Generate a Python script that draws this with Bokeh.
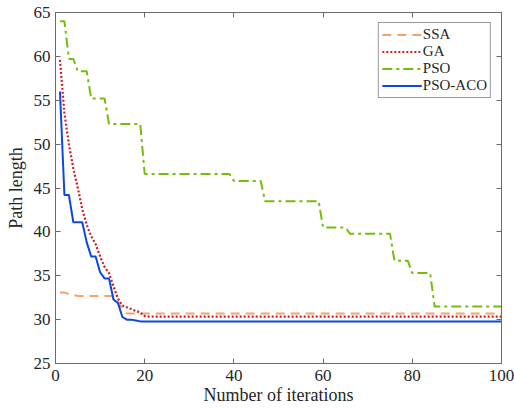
from bokeh.plotting import figure
from bokeh.models import FixedTicker, LinearAxis, Legend, LegendItem, Range1d, CustomJSTickFormatter
from bokeh.embed import file_html
from bokeh.resources import INLINE

iterations = list(range(1, 101))

ssa = [
    33.1, 33.1, 32.9, 32.8, 32.7, 32.7, 32.7, 32.7, 32.7, 32.7,
    32.7, 32.7, 32.7, 32.0, 31.2, 30.7, 30.7, 30.7, 30.7, 30.7,
    30.7, 30.7, 30.7, 30.7, 30.7, 30.7, 30.7, 30.7, 30.7, 30.7,
    30.7, 30.7, 30.7, 30.7, 30.7, 30.7, 30.7, 30.7, 30.7, 30.7,
    30.7, 30.7, 30.7, 30.7, 30.7, 30.7, 30.7, 30.7, 30.7, 30.7,
    30.7, 30.7, 30.7, 30.7, 30.7, 30.7, 30.7, 30.7, 30.7, 30.7,
    30.7, 30.7, 30.7, 30.7, 30.7, 30.7, 30.7, 30.7, 30.7, 30.7,
    30.7, 30.7, 30.7, 30.7, 30.7, 30.7, 30.7, 30.7, 30.7, 30.7,
    30.7, 30.7, 30.7, 30.7, 30.7, 30.7, 30.7, 30.7, 30.7, 30.7,
    30.7, 30.7, 30.7, 30.7, 30.7, 30.7, 30.7, 30.7, 30.7, 30.7,
]

ga = [
    59.6, 53.5, 50.0, 47.2, 45.0, 42.6, 40.8, 39.5, 38.6, 37.2,
    36.0, 35.3, 33.8, 32.4, 31.6, 31.4, 31.2, 31.0, 30.8, 30.4,
    30.35, 30.35, 30.35, 30.35, 30.35, 30.35, 30.35, 30.35, 30.35, 30.35,
    30.35, 30.35, 30.35, 30.35, 30.35, 30.35, 30.35, 30.35, 30.35, 30.35,
    30.35, 30.35, 30.35, 30.35, 30.35, 30.35, 30.35, 30.35, 30.35, 30.35,
    30.35, 30.35, 30.35, 30.35, 30.35, 30.35, 30.35, 30.35, 30.35, 30.35,
    30.35, 30.35, 30.35, 30.35, 30.35, 30.35, 30.35, 30.35, 30.35, 30.35,
    30.35, 30.35, 30.35, 30.35, 30.35, 30.35, 30.35, 30.35, 30.35, 30.35,
    30.35, 30.35, 30.35, 30.35, 30.35, 30.35, 30.35, 30.35, 30.35, 30.35,
    30.35, 30.35, 30.35, 30.35, 30.35, 30.35, 30.35, 30.35, 30.35, 30.35,
]

pso = [
    64.0, 64.0, 59.7, 59.7, 58.3, 58.3, 58.3, 55.2, 55.2, 55.2,
    55.2, 52.3, 52.3, 52.3, 52.3, 52.3, 52.3, 52.3, 52.3, 46.6,
    46.6, 46.6, 46.6, 46.6, 46.6, 46.6, 46.6, 46.6, 46.6, 46.6,
    46.6, 46.6, 46.6, 46.6, 46.6, 46.6, 46.6, 46.6, 46.6, 45.8,
    45.8, 45.8, 45.8, 45.8, 45.8, 45.8, 43.5, 43.5, 43.5, 43.5,
    43.5, 43.5, 43.5, 43.5, 43.5, 43.5, 43.5, 43.5, 43.5, 40.5,
    40.5, 40.5, 40.5, 40.5, 40.5, 39.8, 39.8, 39.8, 39.8, 39.8,
    39.8, 39.8, 39.8, 39.8, 39.8, 36.7, 36.7, 36.7, 36.7, 35.3,
    35.3, 35.3, 35.3, 35.3, 31.5, 31.5, 31.5, 31.5, 31.5, 31.5,
    31.5, 31.5, 31.5, 31.5, 31.5, 31.5, 31.5, 31.5, 31.5, 31.5,
]

pso_aco = [
    56.0, 44.2, 44.2, 41.1, 41.1, 41.1, 38.8, 37.2, 37.2, 35.4,
    34.7, 34.7, 32.3, 31.9, 30.3, 30.0, 30.0, 29.9, 29.8, 29.8,
    29.8, 29.8, 29.8, 29.8, 29.8, 29.8, 29.8, 29.8, 29.8, 29.8,
    29.8, 29.8, 29.8, 29.8, 29.8, 29.8, 29.8, 29.8, 29.8, 29.8,
    29.8, 29.8, 29.8, 29.8, 29.8, 29.8, 29.8, 29.8, 29.8, 29.8,
    29.8, 29.8, 29.8, 29.8, 29.8, 29.8, 29.8, 29.8, 29.8, 29.8,
    29.8, 29.8, 29.8, 29.8, 29.8, 29.8, 29.8, 29.8, 29.8, 29.8,
    29.8, 29.8, 29.8, 29.8, 29.8, 29.8, 29.8, 29.8, 29.8, 29.8,
    29.8, 29.8, 29.8, 29.8, 29.8, 29.8, 29.8, 29.8, 29.8, 29.8,
    29.8, 29.8, 29.8, 29.8, 29.8, 29.8, 29.8, 29.8, 29.8, 29.8,
]

x_ticks = [0, 20, 40, 60, 80, 100]
y_ticks = [25, 30, 35, 40, 45, 50, 55, 60, 65]

FONT = "Liberation Serif"
AXIS_COLOR = "#6b6b6b"
TEXT_COLOR = "#262626"

p = figure(width=514, height=410, output_backend="svg", toolbar_location=None,
           x_range=Range1d(0, 100), y_range=Range1d(25, 65),
           min_border_left=55, min_border_right=13, min_border_top=12, min_border_bottom=47)
p.xgrid.visible = False
p.ygrid.visible = False
p.outline_line_color = AXIS_COLOR
p.outline_line_width = 1
p.background_fill_color = "white"
p.border_fill_color = "white"

def style_axis(ax):
    ax.axis_line_color = AXIS_COLOR
    ax.major_tick_line_color = AXIS_COLOR
    ax.major_tick_in = 5
    ax.major_tick_out = 0
    ax.minor_tick_line_color = None
    ax.major_label_text_font = FONT
    ax.major_label_text_color = TEXT_COLOR
    ax.major_label_text_font_size = "17px"
    ax.axis_label_text_font = FONT
    ax.axis_label_text_font_style = "normal"
    ax.axis_label_text_font_size = "18px"
    ax.axis_label_text_color = TEXT_COLOR

p.xaxis.ticker = FixedTicker(ticks=x_ticks)
p.yaxis.ticker = FixedTicker(ticks=y_ticks)
style_axis(p.xaxis[0])
style_axis(p.yaxis[0])
p.xaxis.axis_label = "Number of iterations"
p.yaxis.axis_label = "Path length"
p.xaxis.major_label_standoff = 6
p.yaxis.major_label_standoff = 5
p.xaxis.axis_label_standoff = 1
p.yaxis.axis_label_standoff = 5

blank = CustomJSTickFormatter(code="return '';")
top_ax = LinearAxis(ticker=FixedTicker(ticks=x_ticks), formatter=blank)
right_ax = LinearAxis(ticker=FixedTicker(ticks=y_ticks), formatter=blank)
style_axis(top_ax)
style_axis(right_ax)
top_ax.major_label_standoff = 0
right_ax.major_label_standoff = 0
p.add_layout(top_ax, "above")
p.add_layout(right_ax, "right")

r_ssa = p.line(iterations, ssa, line_color="#F7A265", line_width=2, line_dash="9 6")
r_ga = p.line(iterations, ga, line_color="#CC1F24", line_width=2.2, line_dash="2 2")
r_pso = p.line(iterations, pso, line_color="#76BC0A", line_width=2, line_dash="10 4 3 4")
r_aco = p.line(iterations, pso_aco, line_color="#0B46E6", line_width=2)

legend = Legend(items=[
    LegendItem(label="SSA", renderers=[r_ssa]),
    LegendItem(label="GA", renderers=[r_ga]),
    LegendItem(label="PSO", renderers=[r_pso]),
    LegendItem(label="PSO-ACO", renderers=[r_aco]),
], location="top_right")
legend.margin = 10
legend.padding = 3
legend.spacing = 0
legend.glyph_width = 40
legend.glyph_height = 17
legend.label_height = 17
legend.label_standoff = 1
legend.label_text_font = FONT
legend.label_text_font_size = "15px"
legend.label_text_color = TEXT_COLOR
legend.border_line_color = "#333333"
legend.border_line_width = 1
legend.background_fill_alpha = 1
p.add_layout(legend)

open("out.html", "w").write(file_html(p, INLINE))
